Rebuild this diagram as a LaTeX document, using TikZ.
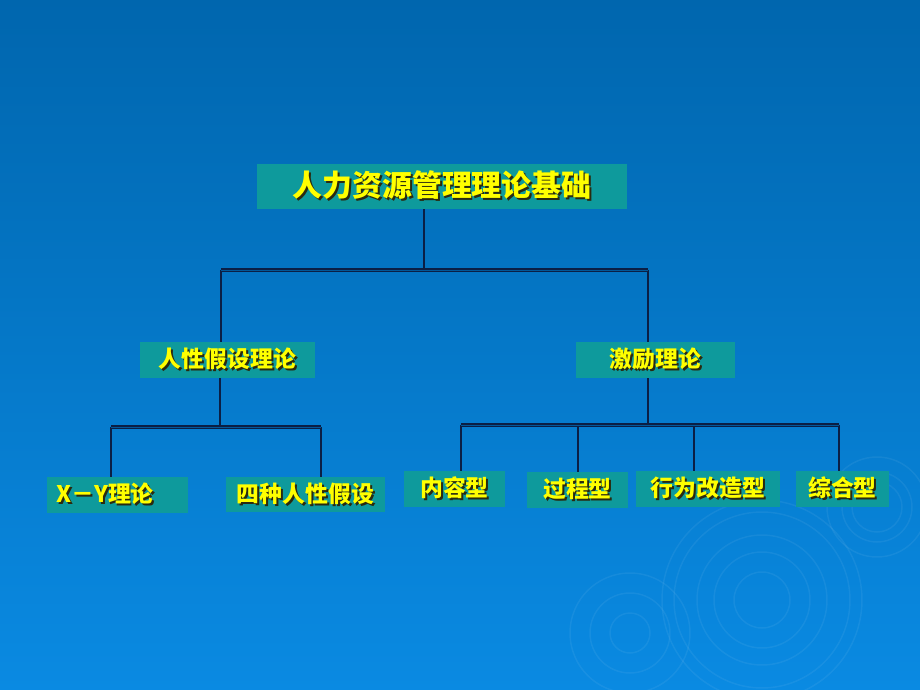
\documentclass[tikz,border=0pt]{standalone}
\usepackage{fontspec}
\usepackage{tikz}
\usetikzlibrary{positioning}
\newfontfamily\cjk{Noto Sans CJK SC}

\definecolor{bgtop}{HTML}{0066AE}
\definecolor{bgmid}{HTML}{006DB8}
\definecolor{bgbot}{HTML}{0A8AE2}
\definecolor{boxfill}{HTML}{0E9A9C}
\definecolor{txtyel}{HTML}{FFFF00}
\definecolor{txtsh}{HTML}{2A2A10}
\definecolor{linec}{HTML}{0B1F45}

\newcommand\shtxt[1]{\makebox[0pt][l]{\hspace{1.1pt}\raisebox{-1.1pt}{\textcolor{txtsh}{#1}}}#1}

\begin{document}
\begin{tikzpicture}[x=0.02cm,y=-0.02cm,
    box/.style={fill=boxfill,inner sep=0pt,minimum height=0.72cm,text=txtyel,
      font=\cjk\bfseries\fontsize{13}{15}\selectfont},
    bigbox/.style={box,minimum height=0.9cm,font=\cjk\bfseries\fontsize{17}{20}\selectfont},
    conn/.style={draw=linec,line width=1pt},
    bus/.style={draw=linec,line width=0.7pt,double=bgtop!80!linec,double distance=0.5pt},
    ripple/.style={draw=white,draw opacity=0.06,line width=0.03cm}]
  \useasboundingbox (0,0) rectangle (920,690);
  \shade[top color=bgtop,middle color=bgmid,bottom color=bgbot] (0,0) rectangle (920,690);

  % ripples
  \begin{scope}
    \clip (0,0) rectangle (920,690);
    \foreach \r in {0.56,0.96,1.3,1.76,2.0}
      \draw[ripple] (762,600) circle (\r cm);
    \foreach \r in {0.4,0.8,1.2}
      \draw[ripple] (630,633) circle (\r cm);
    \foreach \r in {0.5,0.7,1.0}
      \draw[ripple] (877,507) circle (\r cm);
  \end{scope}

  % boxes
  \node[bigbox,minimum width=7.4cm] (root) at (442,186.5) {\shtxt{人力资源管理理论基础}};
  \node[box,minimum width=3.5cm] (hyp) at (227.5,360) {\shtxt{人性假设理论}};
  \node[box,minimum width=3.18cm] (mot) at (655.5,360) {\shtxt{激励理论}};
  \node[box,minimum width=2.82cm] (xy) at (117.5,495) {\shtxt{X－Y理论}\kern0.5cm};
  \node[box,minimum width=3.18cm,minimum height=0.7cm] (four) at (305.5,494.5) {\shtxt{四种人性假设}};
  \node[box,minimum width=2.02cm] (cont) at (454.5,489) {\shtxt{内容型}};
  \node[box,minimum width=2.02cm] (proc) at (577.5,490) {\shtxt{过程型}};
  \node[box,minimum width=2.88cm] (beh) at (708,489) {\shtxt{行为改造型}};
  \node[box,minimum width=1.86cm] (comp) at (842.5,489) {\shtxt{综合型}};

  % first level
  \coordinate (j0) at (424,270);
  \coordinate (b1l) at (221,270);
  \coordinate (b1r) at (648,270);
  \draw[conn] (root.south -| j0) -- (j0);
  \draw[conn] (b1l) -- (b1l |- hyp.north);
  \draw[conn] (b1r) -- (b1r |- mot.north);
  \draw[bus] (b1l) -- (b1r);

  % left branch
  \coordinate (j1) at (220,427);
  \coordinate (b2l) at (111,427);
  \coordinate (b2r) at (321,427);
  \draw[conn] (hyp.south -| j1) -- (j1);
  \draw[conn] (b2l) -- (b2l |- xy.north);
  \draw[conn] (b2r) -- (b2r |- four.north);
  \draw[bus] (b2l) -- (b2r);

  % right branch
  \coordinate (j2) at (648,425);
  \coordinate (b3a) at (461,425);
  \coordinate (b3b) at (578,425);
  \coordinate (b3c) at (694,425);
  \coordinate (b3d) at (839,425);
  \draw[conn] (mot.south -| j2) -- (j2);
  \foreach \c/\n in {b3a/cont,b3b/proc,b3c/beh,b3d/comp}
    \draw[conn] (\c) -- (\c |- \n.north);
  \draw[bus] (b3a) -- (b3d);
\end{tikzpicture}
\end{document}
